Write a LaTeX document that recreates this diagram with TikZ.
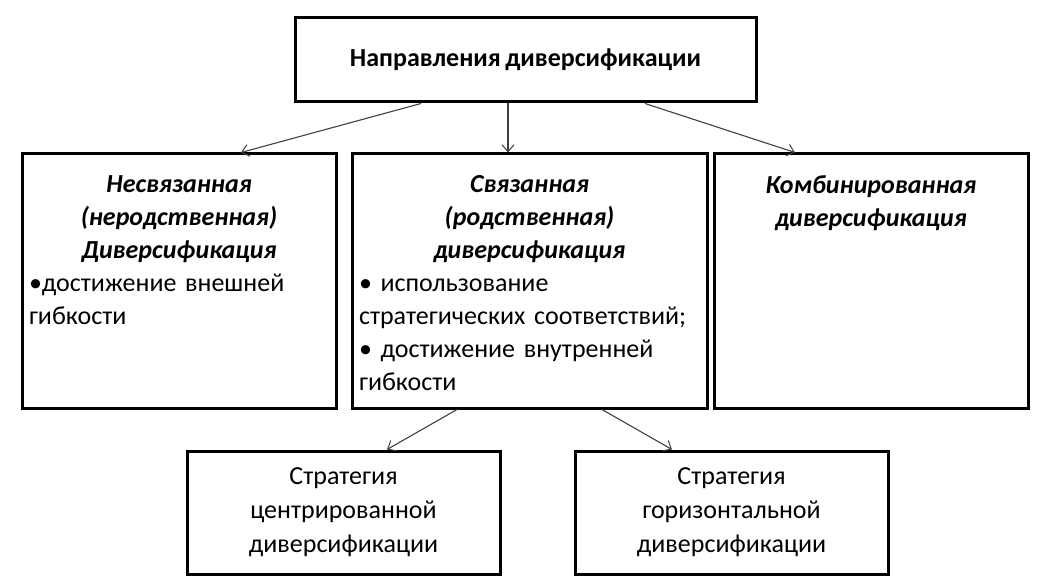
\documentclass[tikz,border=0pt]{standalone}
\usepackage{fontspec}
\setmainfont{Carlito}[WordSpace=0.75]
\usetikzlibrary{arrows.meta}
\newcommand{\ctl}[1]{\makebox[\linewidth]{\bfseries\itshape #1}}
\tikzset{
  box/.style={draw=black, line width=3pt, rectangle, inner sep=0pt},
  arr/.style={draw=black!75, line width=1.1pt, -{Straight Barb[length=7pt,width=12pt,line width=1pt]}},
  txt/.style={inner sep=0pt, align=left, font={\fontsize{26}{33}\selectfont}},
  ltxt/.style={inner sep=0pt, font={\fontsize{26}{34}\selectfont}, align=center},
}
\begin{document}
\begin{tikzpicture}[x=1pt,y=-1pt]
\useasboundingbox[fill=white] (0,0) rectangle (1056,585);
% boxes
\node[box, minimum width=461pt, minimum height=84pt] (top) at (525.5,60) {};
\node[box, minimum width=314pt, minimum height=254pt] (A) at (179,281) {};
\node[box, minimum width=355pt, minimum height=254pt] (B) at (529.5,281) {};
\node[box, minimum width=314pt, minimum height=254pt] (C) at (871,281) {};
\node[box, minimum width=313pt, minimum height=123pt] (D) at (343.5,512.5) {};
\node[box, minimum width=313pt, minimum height=123pt] (E) at (731.5,512.5) {};
% texts
\node[inner sep=0pt, font={\fontsize{26}{33}\selectfont\bfseries}] (ttop) at (top.center) {Направления диверсификации};
\node[txt, text width=300pt, anchor=north] (tA) at ([yshift=-22.5pt]A.north) {\ctl{Несвязанная}\\\ctl{(неродственная)}\\\ctl{Диверсификация}\\•достижение внешней\\гибкости};
\node[txt, text width=341pt, anchor=north] (tB) at ([yshift=-22.5pt]B.north) {\ctl{Связанная}\\\ctl{(родственная)}\\\ctl{диверсификация}\\• использование\\стратегических соответствий;\\• достижение внутренней\\гибкости};
\node[txt, text width=300pt, anchor=north] (tC) at ([yshift=-22.5pt]C.north) {\ctl{Комбинированная}\\\ctl{диверсификация}};
\node[ltxt] (tD) at (D.center) {Стратегия\\центрированной\\диверсификации};
\node[ltxt] (tE) at (E.center) {Стратегия\\горизонтальной\\диверсификации};
% connectors
\draw[arr] ([xshift=-104.5pt]top.south) -- ([xshift=62pt]A.north);
\draw[arr] ([xshift=-17.5pt]top.south) -- ([xshift=-21.5pt]B.north);
\draw[arr] ([xshift=119.5pt]top.south) -- ([xshift=-76pt]C.north);
\draw[arr] ([xshift=-72.5pt]B.south) -- ([xshift=43.5pt]D.north);
\draw[arr] ([xshift=72.5pt]B.south) -- ([xshift=-59.5pt]E.north);
\end{tikzpicture}
\end{document}
